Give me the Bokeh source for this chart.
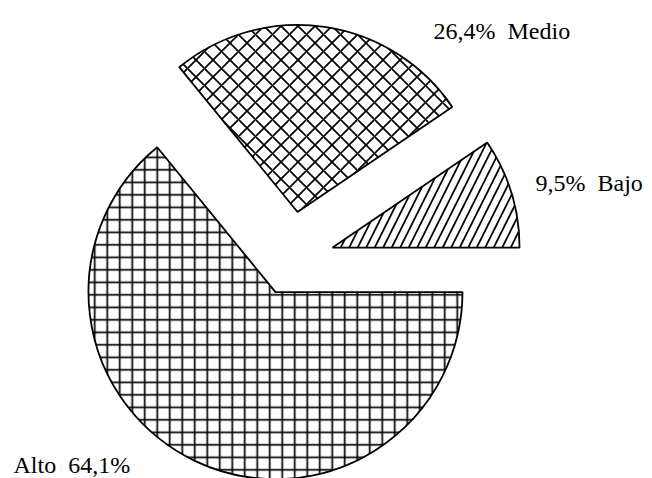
import math
from bokeh.plotting import figure
from bokeh.models import ColumnDataSource
from bokeh.core.properties import value
from bokeh.embed import file_html
from bokeh.resources import INLINE

# ---- data ----
categories = ["Alto", "Medio", "Bajo"]
percents = [64.1, 26.4, 9.5]
pct_labels = ["64,1%", "26,4%", "9,5%"]

# ---- style ----
hatches = ["+", "x", "/"]
hatch_scales = [12.5, 17, 17]
explode = [35, 49, 44]          # px, along each slice's mid-angle
radius = 187
cx, cy = 290, 218               # common pie centre (data = px coordinates)
label_pos = [(13, 14), (433, 448), (535, 296)]
GAP = "\u00a0 "
label_fmt = ["{c}" + GAP + "{p}", "{p}" + GAP + "{c}", "{p}" + GAP + "{c}"]

W, H = 652, 478
p = figure(width=W, height=H, x_range=(0, W), y_range=(0, H),
           output_backend="svg", toolbar_location=None, min_border=0)
p.axis.visible = False
p.grid.visible = False
p.outline_line_color = None

# Slices anticlockwise from 0 deg: Bajo, Medio, Alto
order = [2, 1, 0]
start = 0.0
xs, ys, sa, ea = [0] * 3, [0] * 3, [0] * 3, [0] * 3
for i in order:
    span = percents[i] / sum(percents) * 2 * math.pi
    mid = start + span / 2
    xs[i] = cx + explode[i] * math.cos(mid)
    ys[i] = cy + explode[i] * math.sin(mid)
    sa[i] = start
    ea[i] = start + span
    start += span

src = ColumnDataSource(dict(x=xs, y=ys, sa=sa, ea=ea, hatch=hatches,
                            hs=hatch_scales, cat=categories))
p.wedge(x="x", y="y", radius=radius, start_angle="sa", end_angle="ea",
        source=src, fill_color="white", line_color="black", line_width=1.8,
        hatch_pattern="hatch", hatch_scale="hs", hatch_color="black",
        hatch_weight=1.7)

texts = [label_fmt[i].format(c=categories[i], p=pct_labels[i]) for i in range(3)]
p.text(x=[lp[0] for lp in label_pos], y=[lp[1] for lp in label_pos], text=texts,
       text_font=value("Liberation Serif"), text_font_size="24px",
       text_color="black", text_align="left", text_baseline="alphabetic")

open("out.html", "w").write(file_html(p, INLINE))
